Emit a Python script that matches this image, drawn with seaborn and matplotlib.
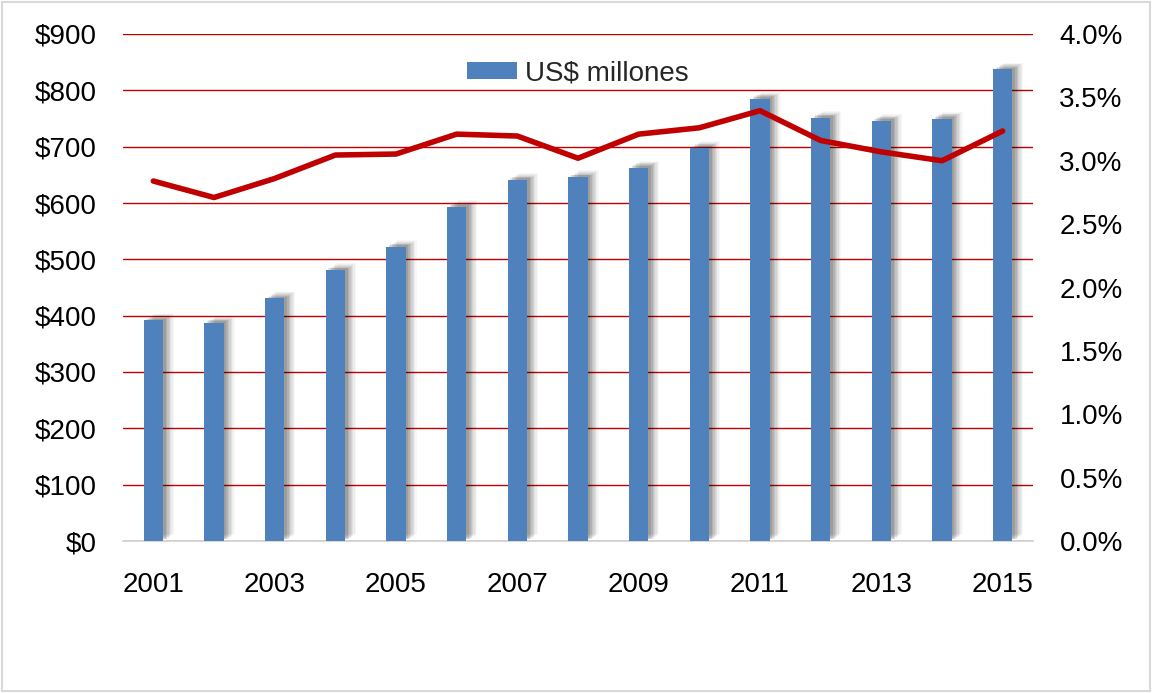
import matplotlib
matplotlib.use("Agg")
import matplotlib.pyplot as plt
import matplotlib.patheffects as pe
from matplotlib.patches import Rectangle, Patch
from matplotlib.ticker import FuncFormatter
import seaborn as sns
import pandas as pd

years = [2001, 2002, 2003, 2004, 2005, 2006, 2007, 2008, 2009, 2010, 2011, 2012, 2013, 2014, 2015]
usd_millones = [392, 387, 431, 481, 522, 593, 641, 646, 663, 698, 785, 751, 746, 750, 837]
pct = [2.84, 2.71, 2.86, 3.045, 3.053, 3.21, 3.195, 3.02, 3.21, 3.26, 3.395, 3.16, 3.07, 3.0, 3.235]
left_ticks = [0, 100, 200, 300, 400, 500, 600, 700, 800, 900]
right_ticks = [0.0, 0.5, 1.0, 1.5, 2.0, 2.5, 3.0, 3.5, 4.0]

df = pd.DataFrame({"year": [str(y) for y in years], "usd": usd_millones, "pct": pct})
df["pos"] = range(len(df))

sns.set_theme(style="white")
plt.rcParams["font.family"] = ["Liberation Sans", "DejaVu Sans"]

fig = plt.figure(figsize=(11.54, 6.93), dpi=100)
ax = fig.add_axes([123 / 1154, 1 - 541 / 693, 910 / 1154, 507 / 693])

blue = "#4F81BD"
red = "#C00000"
fs = 20

sns.barplot(data=df, x="year", y="usd", color=blue, width=0.32, ax=ax,
            saturation=1, zorder=3)
shadow = [pe.SimplePatchShadow(offset=(o, o * 0.6), shadow_rgbFace="#000000", alpha=a)
          for o, a in [(8, 0.03), (7, 0.04), (6, 0.05), (5, 0.06), (4, 0.07), (3, 0.09), (2, 0.11)]]
for p in ax.patches:
    p.set_path_effects(shadow + [pe.Normal()])
    p.set_edgecolor("none")

ax.set_ylim(0, 900)
ax.set_xlim(-0.5, len(years) - 0.5)
ax.set_yticks(left_ticks)
ax.yaxis.set_major_formatter(FuncFormatter(lambda v, _: f"${v:.0f}"))
ax.set_xticks(range(0, len(years), 2))
ax.set_xticklabels([str(y) for y in years[::2]])
ax.grid(axis="y", color=red, linewidth=1.0, zorder=0)
ax.set_axisbelow(True)
for s in ["left", "right", "top"]:
    ax.spines[s].set_visible(False)
ax.spines["bottom"].set_color("#D0D0D0")
ax.spines["bottom"].set_linewidth(1.2)
ax.tick_params(axis="both", length=0, labelsize=fs, colors="black")
ax.tick_params(axis="y", pad=19)
ax.tick_params(axis="x", pad=22)
ax.set_xlabel("")
ax.set_ylabel("")

ax2 = ax.twinx()
sns.lineplot(data=df, x="pos", y="pct", color=red, linewidth=4.0, ax=ax2,
             solid_capstyle="round", solid_joinstyle="round")
ax2.set_ylim(0, 4)
ax2.set_yticks(right_ticks)
ax2.yaxis.set_major_formatter(FuncFormatter(lambda v, _: f"{v:.1f}%"))
for s in ["left", "right", "top", "bottom"]:
    ax2.spines[s].set_visible(False)
ax2.tick_params(axis="y", length=0, labelsize=fs, pad=19, colors="black")
ax2.set_ylabel("")
ax2.set_xlabel("")
ax2.grid(False)
if ax2.get_legend():
    ax2.get_legend().remove()

ax.legend([Patch(facecolor=blue, edgecolor="none")], ["US$ millones"], loc="center",
          bbox_to_anchor=(0.5, 0.923), frameon=False, fontsize=fs,
          handlelength=1.8, handleheight=0.55, handletextpad=0.3)

fig.patches.append(Rectangle((2 / 1154, 2 / 693), 1148 / 1154, 689 / 693,
                             transform=fig.transFigure, fill=False,
                             edgecolor="#D9D9D9", linewidth=1.5))

fig.savefig("out.png", dpi=100)
